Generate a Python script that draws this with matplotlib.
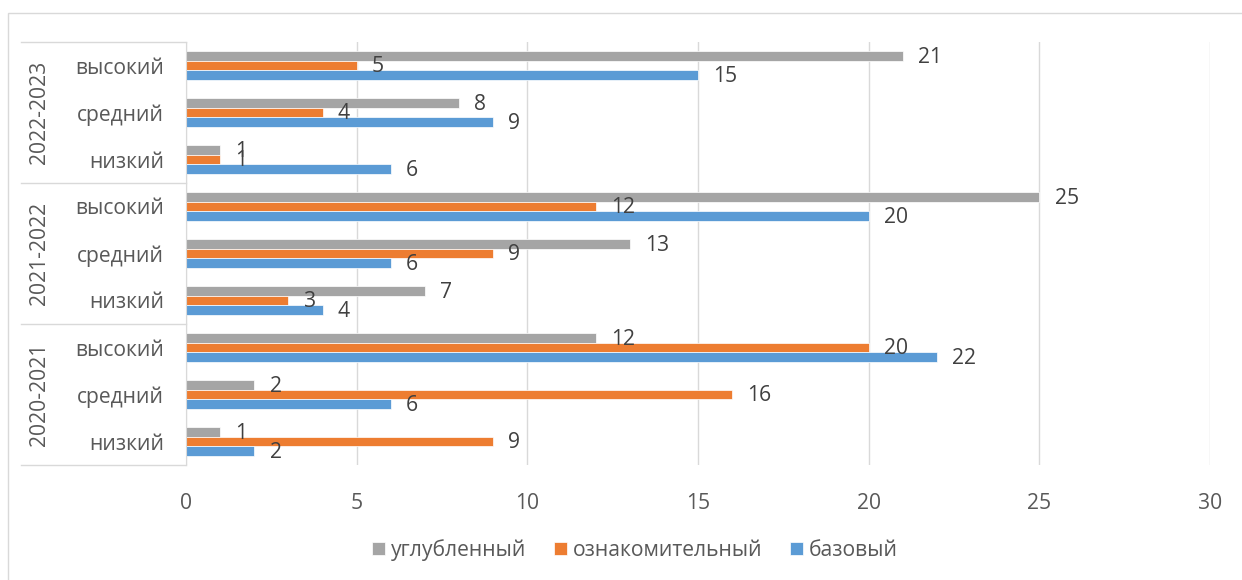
import numpy as np
import matplotlib
matplotlib.use('Agg')
import matplotlib.pyplot as plt
from matplotlib.patches import Rectangle
from matplotlib.lines import Line2D
import matplotlib.transforms as mtransforms

plt.rcParams['font.family'] = ['Open Sans', 'DejaVu Sans']

# --Data-- (bottom to top, as drawn)
years = ['2020-2021', '2021-2022', '2022-2023']
levels = ['низкий', 'средний', 'высокий']
series_names = ['углубленный', 'ознакомительный', 'базовый']

bazovy = [2, 6, 22, 4, 6, 20, 6, 9, 15]
oznakom = [9, 16, 20, 3, 9, 12, 1, 4, 5]
uglubl = [1, 2, 12, 7, 13, 25, 1, 8, 21]

colors = {'углубленный': '#A5A5A5',
          'ознакомительный': '#ED7D31',
          'базовый': '#5B9BD5'}

W, H = 1242, 580
fs = 15.2
fig = plt.figure(figsize=(W / 100, H / 100), dpi=100)
ax = fig.add_axes([186 / W, 1 - 465 / H, 1024 / W, 423 / H])

idx = np.arange(len(bazovy))
h = 0.208
bar_sets = [(uglubl, h, 'углубленный'),
            (oznakom, 0, 'ознакомительный'),
            (bazovy, -h, 'базовый')]

handles = []
for vals, off, name in bar_sets:
    b = ax.barh(idx + off, vals, height=h, color=colors[name],
                edgecolor='white', linewidth=0.5, zorder=3)
    handles.append(b)
    for y, v in zip(idx + off, vals):
        ax.annotate(str(v), xy=(v, y), xytext=(11, -1),
                    textcoords='offset points', ha='left', va='center',
                    fontsize=fs, color='#404040', zorder=4)

ax.set_xlim(0, 30)
ax.set_ylim(-0.5, len(idx) - 0.5)
ax.set_xticks(np.arange(0, 31, 5))
ax.set_yticks(idx)
ax.set_yticklabels(levels * len(years))
ax.tick_params(axis='both', length=0, labelsize=fs, labelcolor='#595959')
ax.tick_params(axis='y', pad=16)
ax.tick_params(axis='x', pad=20)
ax.grid(axis='x', color='#D9D9D9', linewidth=1, zorder=0)
ax.set_axisbelow(True)
for s in ['top', 'right', 'bottom']:
    ax.spines[s].set_visible(False)
ax.spines['left'].set_color('#D9D9D9')
ax.spines['left'].set_zorder(5)

# group labels and separators
trans = mtransforms.blended_transform_factory(ax.transAxes, ax.transData)
x_sep = (21 - 186) / 1024
for g, yr in enumerate(years):
    ax.text((39 - 186) / 1024, g * 3 + 1, yr, transform=trans, rotation=90,
            ha='center', va='center', fontsize=fs, color='#595959')
for yb in [-0.5, 2.5, 5.5, 8.5]:
    ax.add_line(Line2D([x_sep, 0], [yb, yb], transform=trans,
                       color='#D9D9D9', linewidth=1, clip_on=False))

fig.legend(handles, series_names, loc='center',
           bbox_to_anchor=(635 / W, 1 - 550 / H), ncol=3, frameon=False,
           fontsize=fs, labelcolor='#595959', handlelength=0.6,
           handleheight=0.6, handletextpad=0.3, columnspacing=1.3)

# outer chart border
fig.add_artist(Rectangle((8 / W, -0.1), 1.2, 1.1 - 13 / H, fill=False,
                         edgecolor='#D9D9D9', linewidth=1,
                         transform=fig.transFigure))

fig.savefig('out.png', dpi=100)
